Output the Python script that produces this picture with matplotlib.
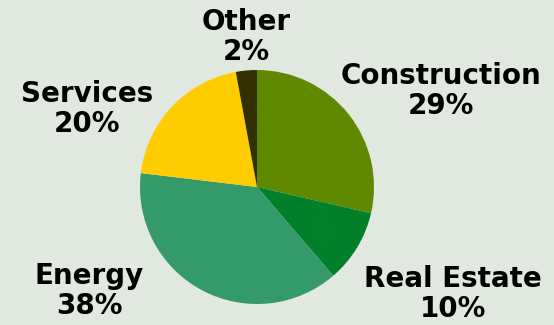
import matplotlib.pyplot as plt

sectors = ["Construction", "Real Estate", "Energy", "Services", "Other"]
shares = [28.6, 10.1, 38.2, 20.2, 2.9]
pct_labels = ["29%", "10%", "38%", "20%", "2%"]
colors = ["#5F8A00", "#00802A", "#359A6A", "#FFCC00", "#333000"]

W, H = 554, 325
fig = plt.figure(figsize=(W / 100, H / 100), dpi=100)
fig.patch.set_facecolor("#E1E8E0")
ax = fig.add_axes([0, 0, 1, 1])

ax.pie(shares, colors=colors, startangle=90, counterclock=False,
       center=(257, H - 187), radius=117, frame=True,
       wedgeprops=dict(linewidth=0))
ax.set_xlim(0, W)
ax.set_ylim(0, H)
ax.set_aspect("equal")
ax.axis("off")

# label centres in pixel coords (x, y from top)
label_pos = [(441, 91), (453, 294), (89, 291), (87, 109), (246, 37)]
for name, pct, (x, y) in zip(sectors, pct_labels, label_pos):
    ax.text(x, H - y, name + "\n" + pct, ha="center", va="center",
            fontsize=20, fontweight="bold", family="DejaVu Sans",
            linespacing=1.1, color="black")

fig.savefig("out.png", dpi=100, facecolor=fig.get_facecolor())
